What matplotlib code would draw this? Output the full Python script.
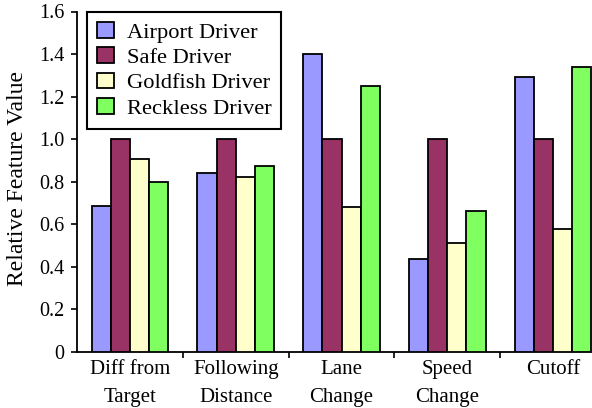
import matplotlib
matplotlib.use("Agg")
import matplotlib.pyplot as plt
import numpy as np

categories = ["Diff from\nTarget", "Following\nDistance", "Lane\nChange", "Speed\nChange", "Cutoff"]
series_names = ["Airport Driver", "Safe Driver", "Goldfish Driver", "Reckless Driver"]
airport = [0.685, 0.843, 1.40, 0.435, 1.29]
safe = [1.0, 1.0, 1.0, 1.0, 1.0]
goldfish = [0.906, 0.82, 0.68, 0.514, 0.58]
reckless = [0.80, 0.873, 1.25, 0.663, 1.34]
colors = ["#9999FF", "#993366", "#FFFFCC", "#80FF60"]
y_ticks = [0, 0.2, 0.4, 0.6, 0.8, 1.0, 1.2, 1.4, 1.6]
y_tick_labels = ["0", "0.2", "0.4", "0.6", "0.8", "1.0", "1.2", "1.4", "1.6"]

plt.rcParams["font.family"] = ["Liberation Serif", "DejaVu Serif"]

W, H = 592, 408
fig = plt.figure(figsize=(W / 100, H / 100), dpi=100)
ax = fig.add_axes([77 / W, 1 - 352 / H, (606 - 77) / W, (352 - 11.5) / H])

x = np.arange(len(categories))
n = len(series_names)
bar_w = 0.725 / n
for i, (name, vals) in enumerate(zip(series_names, [airport, safe, goldfish, reckless])):
    ax.bar(x + (i - (n - 1) / 2) * bar_w, vals, width=bar_w, color=colors[i],
           edgecolor="black", linewidth=1.3, label=name, zorder=3)

ax.set_xlim(-0.5, len(categories) - 0.5)
ax.set_ylim(0, 1.6)
ax.set_yticks(y_ticks)
ax.set_yticklabels(y_tick_labels, fontsize=14.5)

# category separators as major ticks, names as minor tick labels
ax.set_xticks(np.arange(len(categories) - 1) + 0.5)
ax.set_xticklabels([])
ax.set_xticks(x, minor=True)
ax.set_xticklabels(categories, minor=True, linespacing=1.62, va="top", fontsize=15)
ax.tick_params(axis="x", which="minor", length=0, pad=6)
ax.tick_params(axis="x", which="major", length=4, width=1.2, direction="out")
ax.tick_params(axis="y", length=4, width=1.2, direction="out", pad=5)

for s in ["top", "right"]:
    ax.spines[s].set_visible(False)
for s in ["left", "bottom"]:
    ax.spines[s].set_linewidth(1.3)

fig.text(18 / W, 1 - 179 / H, "Relative Feature Value", rotation=90,
         ha="center", va="center", fontsize=17)

leg = ax.legend(loc="upper left", bbox_to_anchor=(87 / W, 1 - 12 / H),
                bbox_transform=fig.transFigure, borderaxespad=0, fancybox=False,
                edgecolor="black", framealpha=1, handlelength=0.75, handleheight=0.7,
                handletextpad=0.56, labelspacing=0.2, borderpad=0.45, fontsize=16.2)
leg.get_frame().set_linewidth(1.5)

fig.savefig("out.png", dpi=100)
